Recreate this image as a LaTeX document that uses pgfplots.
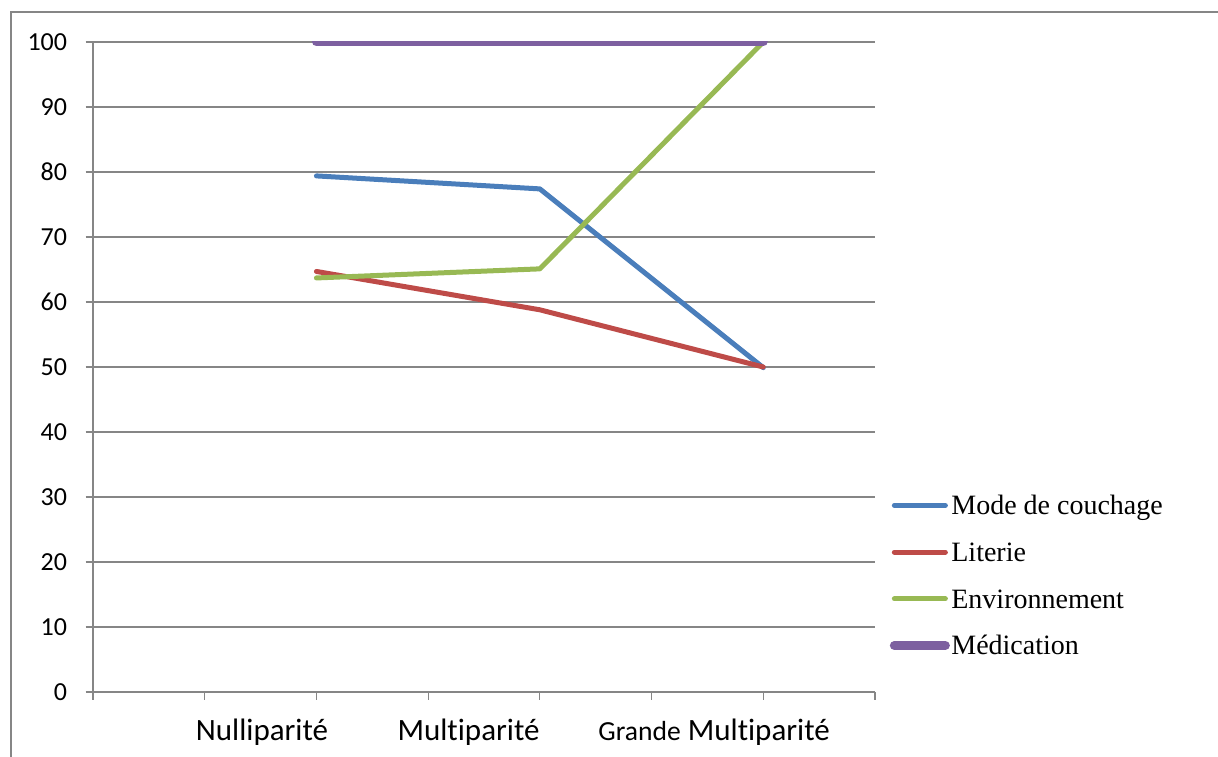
\documentclass[border=0pt]{standalone}
\usepackage{fontspec}
\setmainfont{Liberation Serif}
\newfontfamily\calibri[Ligatures=NoCommon]{Carlito}
\usepackage{pgfplots}
\pgfplotsset{compat=1.18}

\definecolor{cblue}{HTML}{4A7EBB}
\definecolor{cred}{HTML}{BE4B48}
\definecolor{cgreen}{HTML}{98B954}
\definecolor{cpurple}{HTML}{7D60A0}
\definecolor{cgrid}{HTML}{868686}

\begin{document}
\begin{tikzpicture}
\path[use as bounding box] (0,0) rectangle (609pt,378pt);
\draw[cgrid, line width=0.75pt] (5.5pt,-2pt) -- (5.5pt,372pt) -- (612pt,372pt);
\begin{axis}[
  at={(46.5pt,32pt)}, anchor=origin,
  scale only axis, width=391pt, height=325pt,
  xmin=0, xmax=7, ymin=0, ymax=100,
  axis lines*=left,
  axis line style={cgrid, line width=0.6pt},
  tick align=outside,
  major tick length=3.75pt,
  tick style={cgrid, line width=0.6pt},
  ymajorgrids, grid style={cgrid, line width=0.6pt},
  ytick={0,10,...,100},
  /pgf/number format/assume math mode=true,
  yticklabel style={font=\calibri\fontsize{13}{15}\selectfont, anchor=east, inner sep=0pt, xshift=-9pt},
  xtick={0,...,7}, xticklabels={},
  extra x ticks={1.513,3.362,5.56},
  extra x tick labels={Nulliparité, Multiparité, {{\fontsize{13.8}{16}\selectfont Grande} Multiparité}},
  extra x tick style={major tick length=0pt},
  xticklabel style={font=\calibri\fontsize{15.5}{18}\selectfont, anchor=base, inner sep=0pt, yshift=-24pt},
  legend cell align=left,
  legend style={at={(1.0185,0.3038)}, anchor=north west, draw=none, fill=none,
    inner sep=0pt, column sep=0.75pt, row sep=9.83pt,
    font=\fontsize{14}{16}\selectfont,
    nodes={inner sep=0pt, text height=10pt, text depth=3.5pt}},
  legend image code/.code={\draw[#1, line cap=round] (0pt,1.5pt) -- (25.5pt,1.5pt);},
  every axis plot/.append style={line cap=round, line join=round},
]
\addplot[cblue, line width=2.5pt] coordinates {(2,79.4) (4,77.4) (6,49.9)};
\addlegendentry{Mode de couchage}
\addplot[cred, line width=2.5pt] coordinates {(2,64.7) (4,58.8) (6,50.0)};
\addlegendentry{Literie}
\addplot[cgreen, line width=2.5pt] coordinates {(2,63.7) (4,65.1) (6,100)};
\addlegendentry{Environnement}
\addplot[cpurple, line width=4.5pt] coordinates {(2,100) (4,100) (6,100)};
\addlegendentry{Médication}
\end{axis}
\end{tikzpicture}
\end{document}
